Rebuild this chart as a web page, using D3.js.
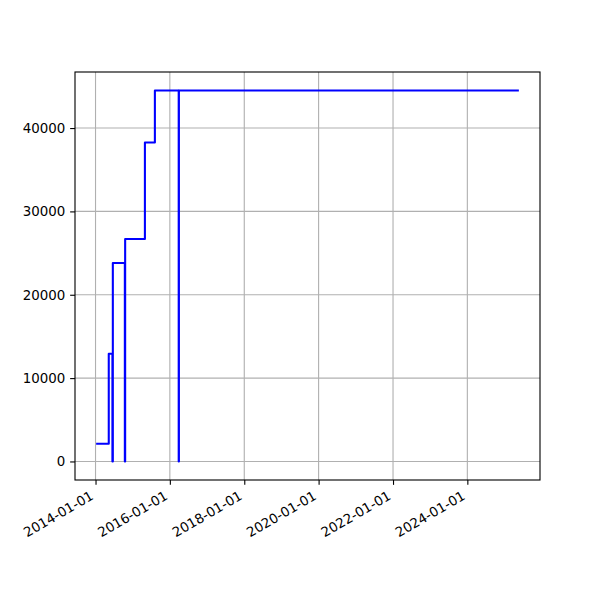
<!DOCTYPE html>
<html>
<head>
<meta charset="utf-8">
<script src="https://cdn.jsdelivr.net/npm/d3@7"></script>
<style>
  html, body { margin: 0; padding: 0; background: #fff; }
  svg { display: block; font-family: "DejaVu Sans", sans-serif; }
</style>
</head>
<body>
<svg id="chart" width="600" height="600"></svg>
<script>
// Data (step plot, value held until next date)
const dates = ["2014-01-07", "2014-05-11", "2014-06-16", "2014-06-20", "2014-10-16",
               "2014-10-19", "2015-05-01", "2015-08-07", "2016-03-28", "2016-03-30", "2025-05-21"];
const values = [2125, 12930, 0, 23800, 0, 26690, 38260, 44500, 0, 44500, 44500];
const xTickLabels = ["2014-01-01", "2016-01-01", "2018-01-01", "2020-01-01", "2022-01-01", "2024-01-01"];
const yTickValues = [0, 10000, 20000, 30000, 40000];

const parse = d3.utcParse("%Y-%m-%d");
const data = dates.map((d, i) => ({ date: parse(d), value: values[i] }));

const svg = d3.select("#chart");
const L = 75, R = 540, T = 72, B = 480;
const PT = 100 / 72;           // one typographic point in pixels
const FONT = "13.4px";

const xMin = d3.min(data, d => d.date), xMax = d3.max(data, d => d.date);
const xPad = (xMax - xMin) * 0.05;
const x = d3.scaleUtc()
  .domain([new Date(+xMin - xPad), new Date(+xMax + xPad)])
  .range([L, R]);

const yMin = 0, yMax = d3.max(values);
const yPad = (yMax - yMin) * 0.05;
const y = d3.scaleLinear().domain([yMin - yPad, yMax + yPad]).range([B, T]);

const xTicks = xTickLabels.map(parse);

// grid
const grid = svg.append("g");
grid.selectAll("line.gx").data(xTicks).enter().append("line")
  .attr("x1", d => x(d)).attr("x2", d => x(d)).attr("y1", T).attr("y2", B)
  .attr("stroke", "#b0b0b0").attr("stroke-width", 0.8 * PT);
grid.selectAll("line.gy").data(yTickValues).enter().append("line")
  .attr("x1", L).attr("x2", R).attr("y1", d => y(d)).attr("y2", d => y(d))
  .attr("stroke", "#b0b0b0").attr("stroke-width", 0.8 * PT);

// step line
const line = d3.line().curve(d3.curveStepAfter)
  .x(d => x(d.date)).y(d => y(d.value));
svg.append("path").datum(data)
  .attr("d", line).attr("fill", "none")
  .attr("stroke", "#0000ff").attr("stroke-width", 1.5 * PT)
  .attr("stroke-linejoin", "round").attr("stroke-linecap", "butt");

// axes
const xAxis = d3.axisBottom(x).tickValues(xTicks)
  .tickFormat(d3.utcFormat("%Y-%m-%d")).tickSize(3.5 * PT).tickPadding(3.5 * PT);
const gx = svg.append("g").attr("transform", `translate(0,${B})`).call(xAxis);
gx.select(".domain").remove();
gx.selectAll(".tick line").attr("stroke", "#000").attr("stroke-width", 0.8 * PT);
gx.selectAll(".tick text")
  .attr("font-size", FONT).attr("fill", "#000")
  .attr("font-family", "DejaVu Sans, sans-serif")
  .attr("text-anchor", "end")
  .attr("y", 0).attr("dy", 0)
  .attr("transform", "translate(-1.6,18.5) rotate(-30)");

const yAxis = d3.axisLeft(y).tickValues(yTickValues)
  .tickFormat(d3.format("d")).tickSize(3.5 * PT).tickPadding(3.5 * PT);
const gy = svg.append("g").attr("transform", `translate(${L},0)`).call(yAxis);
gy.select(".domain").remove();
gy.selectAll(".tick line").attr("stroke", "#000").attr("stroke-width", 0.8 * PT);
gy.selectAll(".tick text")
  .attr("font-size", FONT).attr("fill", "#000")
  .attr("font-family", "DejaVu Sans, sans-serif");

// frame
svg.append("rect").attr("x", L).attr("y", T).attr("width", R - L).attr("height", B - T)
  .attr("fill", "none").attr("stroke", "#000").attr("stroke-width", 0.8 * PT);
</script>
</body>
</html>
